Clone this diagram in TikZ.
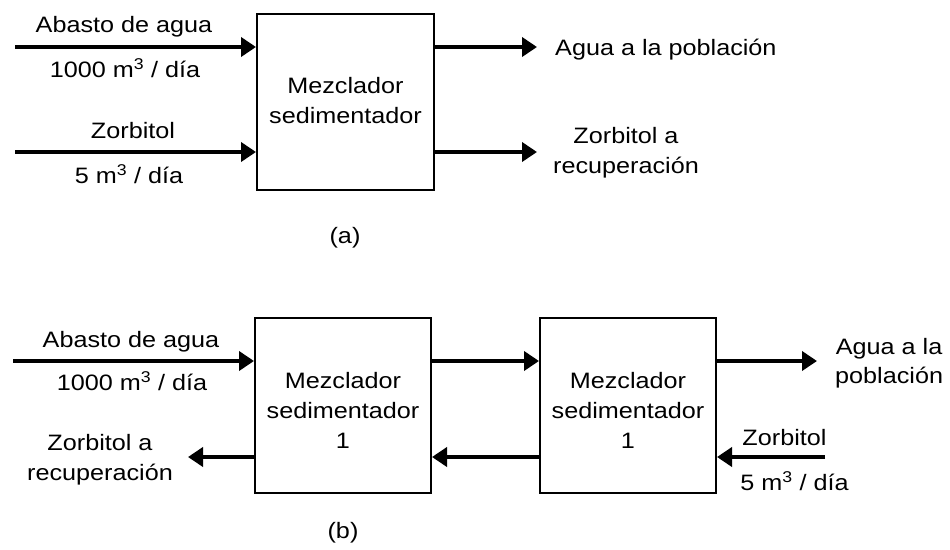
\documentclass[tikz,border=0pt]{standalone}
\usepackage{fontspec}
\setmainfont{Liberation Sans}[FakeStretch=1.13]
\usetikzlibrary{arrows.meta}
\begin{document}
\begin{tikzpicture}[x=1pt,y=-1pt,
  every node/.style={font=\fontsize{22.3}{30}\selectfont},
  lbl/.style={inner sep=0pt, text height=16pt, text depth=5pt, align=center, anchor=north},
  procbox/.style={draw, line width=2pt, inner sep=0pt, text depth=5pt, align=center},
  flow/.style={line width=4pt, -{Triangle[length=15pt,width=19pt]}}]
\useasboundingbox (0,0) rectangle (950,549);
% ---------- (a) ----------
\node[procbox, text height=47pt, minimum width=177pt, minimum height=176pt] (A) at (345.5,102) {Mezclador\\sedimentador};
\coordinate (a1s) at (15,47);
\coordinate (a2s) at (15,152);
\coordinate (a3e) at (537,47);
\coordinate (a4e) at (537,152);
\draw[flow] (a1s) -- (a1s -| A.west);
\draw[flow] (a2s) -- (a2s -| A.west);
\draw[flow] (A.east |- a3e) -- (a3e);
\draw[flow] (A.east |- a4e) -- (a4e);
\node[lbl] (la1) at (124,16) {Abasto de agua};
\node[lbl] (la2) at (125,61) {1000 m\textsuperscript{3} / día};
\node[lbl] (la3) at (133,122) {Zorbitol};
\node[lbl] (la4) at (129,167) {5 m\textsuperscript{3} / día};
\node[lbl, anchor=north west] (la5) at (555,39) {Agua a la población};
\node[lbl] (la6) at (626,157) {Zorbitol a\\recuperación};
\node[lbl] (capa) at (345,227) {(a)};
% ---------- (b) ----------
\node[procbox, text height=90pt, minimum width=176pt, minimum height=175pt] (B1) at (343,405.5) {Mezclador\\sedimentador\\1};
\node[procbox, text height=90pt, minimum width=176pt, minimum height=175pt] (B2) at (628,405.5) {Mezclador\\sedimentador\\1};
\coordinate (b1s) at (13,361);
\coordinate (b1e) at (817,361);
\coordinate (b2s) at (825,457);
\coordinate (b2e) at (188,457);
\draw[flow] (b1s) -- (b1s -| B1.west);
\draw[flow] (B1.east |- b1s) -- (b1s -| B2.west);
\draw[flow] (B2.east |- b1e) -- (b1e);
\draw[flow] (b2s) -- (b2s -| B2.east);
\draw[flow] (B2.west |- b2s) -- (b2s -| B1.east);
\draw[flow] (B1.west |- b2e) -- (b2e);
\node[lbl] (lb1) at (131,331) {Abasto de agua};
\node[lbl] (lb2) at (132,374) {1000 m\textsuperscript{3} / día};
\node[lbl] (lb3) at (100,464) {Zorbitol a\\recuperación};
\node[lbl, anchor=north west, font=\fontsize{22.3}{29}\selectfont] (lb4) at (835,367) {Agua a la\\población};
\node[lbl] (lb5) at (784.5,429) {Zorbitol};
\node[lbl] (lb6) at (794.5,474) {5 m\textsuperscript{3} / día};
\node[lbl] (capb) at (343,522) {(b)};
\end{tikzpicture}
\end{document}
